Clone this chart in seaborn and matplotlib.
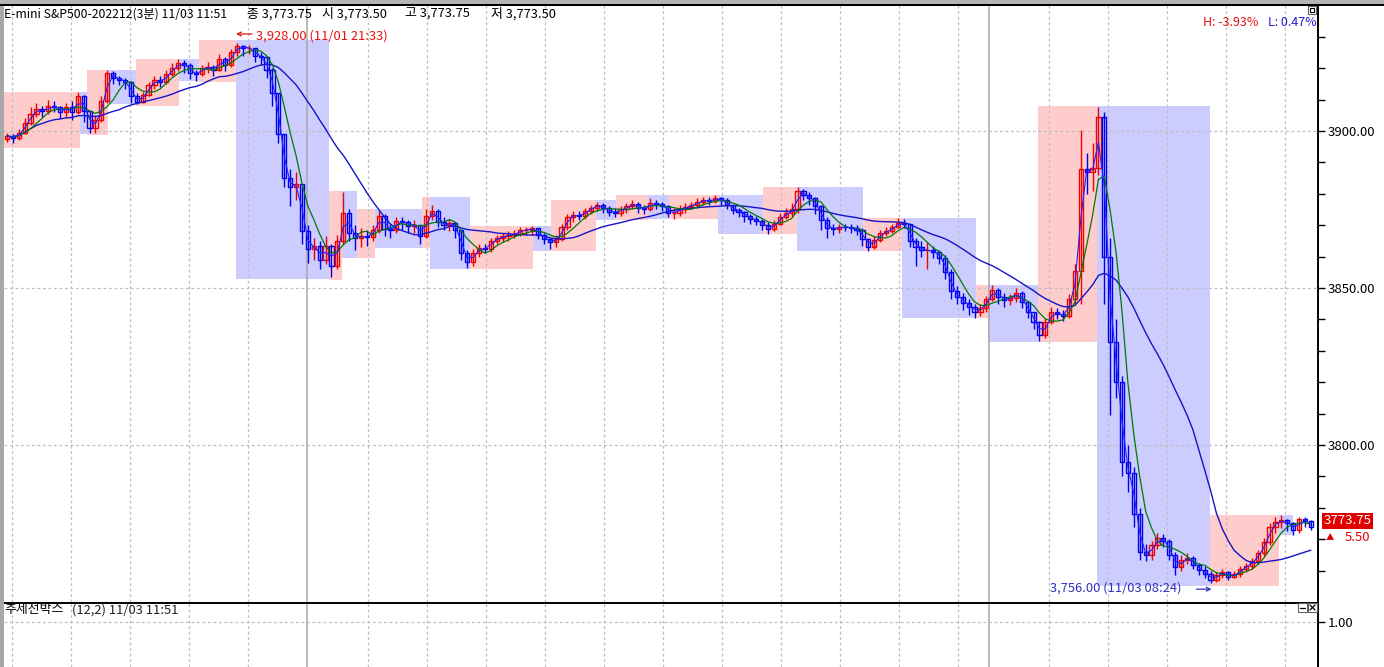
import numpy as np
import pandas as pd
import matplotlib
matplotlib.use("Agg")
import matplotlib.pyplot as plt
from matplotlib.patches import Rectangle
from matplotlib.lines import Line2D
import matplotlib.transforms as mtrans
import seaborn as sns

# ---------------- data ----------------
symbol = "E-mini S&P500-202212(3분)"
last_time = "11/03 11:51"
last_open = 3773.50
last_high = 3773.75
last_low = 3773.50
price_change = 5.50
high_time = "11/01 21:33"
low_time = "11/03 08:24"
indicator_name = "추세선박스"
indicator_params = "(12,2)"
indicator_level = [1.00]

# consecutive candles (one candle = 4 x 3-min bars)
closes = [
    3898.4, 3897.8, 3899.4, 3902.5, 3905.4, 3907.0, 3906.2, 3907.8, 3907.5, 3906.0,
    3907.5, 3906.0, 3911.0, 3906.5, 3901.0, 3903.5, 3909.5, 3918.5, 3916.9, 3916.2,
    3915.6, 3911.0, 3909.2, 3911.5, 3914.5, 3916.2, 3915.6, 3918.2, 3920.0, 3921.5,
    3921.0, 3918.5, 3918.0, 3920.1, 3920.4, 3919.4, 3923.0, 3921.0, 3925.0, 3927.0,
    3926.4, 3926.5, 3924.0, 3923.4, 3919.4, 3912.0, 3899.0, 3885.0, 3882.0, 3883.0,
    3868.0, 3862.5, 3863.5, 3859.0, 3863.5, 3857.0, 3865.0, 3874.0, 3867.5, 3866.0,
    3866.5, 3866.2, 3868.5, 3873.0, 3868.8, 3868.5, 3871.2, 3871.0, 3869.8, 3870.0,
    3866.5, 3872.8, 3874.5, 3871.0, 3870.0, 3870.7, 3868.5, 3861.0, 3858.2, 3861.1,
    3862.7, 3862.5, 3865.0, 3865.8, 3866.4, 3866.9, 3867.2, 3868.5, 3868.5, 3869.0,
    3867.0, 3865.5, 3864.5, 3865.5, 3869.4, 3872.5, 3873.3, 3873.0, 3874.5, 3875.6,
    3876.4, 3875.5, 3874.2, 3874.0, 3875.0, 3876.0, 3876.8, 3875.5, 3875.0, 3877.2,
    3876.6, 3876.2, 3874.0, 3874.0, 3875.2, 3875.8, 3876.4, 3877.4, 3878.0, 3877.6,
    3878.5, 3878.0, 3876.4, 3874.8, 3874.3, 3872.8, 3872.0, 3871.3, 3870.2, 3868.8,
    3870.5, 3872.6, 3873.8, 3875.0, 3881.0, 3879.6, 3878.5, 3876.0, 3871.5, 3869.0,
    3868.8, 3869.4, 3869.3, 3869.1, 3868.5, 3865.5, 3863.2, 3865.3, 3867.5, 3868.0,
    3869.4, 3870.7, 3870.5, 3865.0, 3863.2, 3862.0, 3862.0, 3861.5, 3859.5, 3855.0,
    3849.0, 3847.1, 3845.3, 3844.0, 3842.5, 3843.5, 3846.5, 3849.4, 3847.0, 3846.2,
    3846.8, 3848.5, 3845.5, 3842.2, 3839.0, 3835.0, 3839.0, 3842.4, 3841.8, 3841.0,
    3846.5, 3855.5, 3888.0, 3886.9, 3888.2, 3904.5, 3860.0, 3832.8, 3820.0, 3794.6,
    3791.0, 3778.0, 3766.0, 3765.0, 3768.0, 3770.4, 3769.5, 3765.0, 3761.0, 3763.4,
    3764.0, 3761.8, 3760.2, 3759.0, 3757.0, 3758.6, 3759.6, 3758.0, 3758.8, 3760.5,
    3761.6, 3763.0, 3765.5, 3769.0, 3773.9, 3775.5, 3776.0, 3775.0, 3772.9, 3776.3,
    3775.8, 3773.75,
]
highs = [
    3899.5, 3899.0, 3900.5, 3904.0, 3907.5, 3909.0, 3908.0, 3909.8, 3909.5, 3908.0,
    3909.0, 3909.5, 3912.4, 3911.5, 3906.0, 3905.0, 3911.0, 3919.4, 3919.0, 3917.5,
    3917.0, 3916.0, 3912.0, 3912.5, 3915.5, 3917.5, 3917.5, 3919.5, 3921.5, 3922.9,
    3922.5, 3921.5, 3919.5, 3921.0, 3922.0, 3921.0, 3924.5, 3923.5, 3926.0, 3928.0,
    3927.5, 3927.5, 3926.5, 3925.0, 3924.0, 3920.0, 3912.0, 3899.0, 3888.0, 3887.0,
    3883.0, 3870.0, 3866.0, 3865.0, 3866.5, 3864.0, 3867.0, 3880.6, 3875.0, 3870.0,
    3869.0, 3868.5, 3870.0, 3874.5, 3873.5, 3870.5, 3872.5, 3872.5, 3871.5, 3871.5,
    3870.0, 3875.0, 3876.5, 3875.0, 3872.5, 3872.0, 3871.0, 3868.5, 3862.0, 3862.5,
    3864.0, 3864.0, 3866.0, 3867.0, 3867.5, 3868.0, 3868.5, 3869.5, 3869.5, 3869.7,
    3869.0, 3867.5, 3866.0, 3867.0, 3870.5, 3873.5, 3874.5, 3874.5, 3875.5, 3876.5,
    3877.5, 3877.0, 3876.0, 3875.5, 3876.0, 3877.0, 3878.0, 3877.5, 3876.5, 3878.5,
    3878.0, 3877.5, 3876.5, 3875.5, 3876.5, 3877.0, 3877.5, 3878.5, 3879.0, 3879.0,
    3879.5, 3879.0, 3878.5, 3876.5, 3875.5, 3874.5, 3873.5, 3873.0, 3872.0, 3871.0,
    3871.5, 3874.0, 3875.5, 3877.0, 3882.2, 3881.5, 3880.5, 3879.0, 3876.5, 3872.5,
    3870.5, 3870.5, 3870.5, 3870.5, 3870.0, 3869.0, 3866.0, 3866.5, 3868.5, 3869.5,
    3870.5, 3872.3, 3872.0, 3870.5, 3866.0, 3865.0, 3864.5, 3863.5, 3862.0, 3860.5,
    3856.0, 3850.5, 3848.5, 3846.5, 3845.0, 3845.0, 3847.5, 3851.0, 3850.0, 3848.5,
    3848.0, 3850.0, 3849.0, 3846.0, 3842.5, 3839.5, 3840.0, 3844.0, 3843.5, 3843.0,
    3848.0, 3857.5, 3900.3, 3893.0, 3896.0, 3907.75, 3906.0, 3866.0, 3840.0, 3822.0,
    3800.0, 3793.0, 3780.0, 3768.5, 3769.5, 3772.0, 3771.5, 3770.0, 3766.0, 3765.0,
    3765.5, 3764.5, 3762.5, 3761.5, 3760.0, 3759.5, 3760.5, 3760.0, 3760.0, 3761.5,
    3762.5, 3764.0, 3766.5, 3770.5, 3775.0, 3777.0, 3777.7, 3776.5, 3775.5, 3777.0,
    3777.0, 3776.0,
]
lows = [
    3896.5, 3896.0, 3897.0, 3899.0, 3902.0, 3904.5, 3904.5, 3905.5, 3906.0, 3904.0,
    3904.5, 3903.5, 3905.5, 3903.0, 3899.3, 3899.5, 3903.0, 3909.0, 3915.0, 3914.5,
    3913.5, 3909.0, 3908.6, 3909.0, 3911.0, 3913.5, 3914.0, 3915.0, 3917.5, 3919.0,
    3918.5, 3916.5, 3916.0, 3917.5, 3918.5, 3917.5, 3919.0, 3919.0, 3920.5, 3924.0,
    3924.0, 3924.5, 3922.0, 3921.0, 3917.0, 3908.0, 3896.0, 3882.0, 3876.0, 3878.0,
    3864.0, 3858.0, 3859.0, 3856.0, 3857.5, 3853.5, 3856.0, 3864.0, 3865.0, 3862.0,
    3863.0, 3863.5, 3865.0, 3867.5, 3866.5, 3866.0, 3867.5, 3868.5, 3867.5, 3867.5,
    3864.0, 3866.0, 3871.5, 3869.5, 3868.5, 3868.0, 3866.0, 3859.0, 3856.5, 3857.0,
    3860.0, 3861.0, 3861.5, 3864.0, 3864.5, 3865.0, 3866.0, 3866.5, 3867.0, 3867.0,
    3865.5, 3864.0, 3862.5, 3863.0, 3865.0, 3868.5, 3871.0, 3871.5, 3872.0, 3873.5,
    3874.5, 3874.0, 3873.0, 3872.5, 3873.0, 3874.0, 3875.0, 3874.0, 3873.5, 3874.5,
    3875.0, 3874.5, 3872.5, 3872.0, 3873.0, 3874.0, 3875.0, 3875.5, 3876.5, 3876.5,
    3877.0, 3876.5, 3875.0, 3873.5, 3872.5, 3871.0, 3870.5, 3870.0, 3868.5, 3867.2,
    3868.0, 3870.0, 3872.0, 3872.5, 3874.0, 3878.0, 3876.5, 3873.5, 3868.5, 3866.0,
    3867.0, 3867.5, 3868.0, 3867.5, 3867.0, 3863.5, 3861.8, 3862.5, 3864.5, 3866.5,
    3867.5, 3869.0, 3869.0, 3863.0, 3857.0, 3860.0, 3856.0, 3859.5, 3857.5, 3853.0,
    3846.5, 3845.0, 3843.0, 3841.5, 3840.4, 3841.0, 3842.5, 3846.0, 3845.0, 3844.0,
    3844.5, 3845.5, 3843.5, 3840.5, 3837.0, 3833.0, 3834.0, 3838.5, 3840.0, 3839.5,
    3840.5, 3845.0, 3845.0, 3880.0, 3881.0, 3886.0, 3845.0, 3809.5, 3815.0, 3790.0,
    3785.0, 3774.0, 3763.5, 3763.0, 3763.5, 3767.0, 3767.5, 3763.5, 3758.5, 3760.0,
    3762.0, 3760.5, 3758.5, 3757.5, 3756.0, 3756.5, 3757.5, 3757.0, 3757.5, 3758.0,
    3759.5, 3760.5, 3762.0, 3764.5, 3768.0, 3772.0, 3773.5, 3772.5, 3771.3, 3772.0,
    3774.0, 3773.0,
]
first_open = 3897.5

# trend boxes (candle-edge span, top, bottom, direction)
box_start = [0, 12.9, 14.1, 17.6, 22.4, 29.7, 33.1, 39.3, 55.1, 57.3, 59.8, 62.9, 70.8,
             72.2, 79.0, 89.7, 92.7, 100.3, 103.7, 109.2, 112.7, 121.0, 128.6, 134.4,
             145.6, 152.2, 164.7, 166.8, 175.3, 185.3, 204.4, 216.1]
box_end = box_start[1:] + [218.5]
box_top = [3912.4, 3912.4, 3919.4, 3919.4, 3922.9, 3922.9, 3929.0, 3929.0, 3880.9, 3880.9,
           3875.2, 3875.2, 3879.0, 3879.0, 3869.7, 3869.7, 3878.0, 3878.0, 3879.6, 3879.6,
           3879.6, 3879.6, 3882.2, 3882.2, 3872.3, 3872.3, 3851.0, 3851.0, 3908.0, 3908.0,
           3777.7, 3777.7]
box_bottom = [3894.6, 3899.0, 3898.7, 3908.6, 3908.0, 3915.9, 3915.6, 3852.9, 3852.5, 3859.6,
              3859.6, 3862.7, 3862.7, 3856.0, 3856.0, 3861.8, 3861.8, 3871.7, 3871.5, 3872.0,
              3872.0, 3867.2, 3867.2, 3861.8, 3861.8, 3840.4, 3840.4, 3832.8, 3832.8, 3755.0,
              3755.0, 3771.3]
box_dir = ["up", "dn"] * 16

ma_windows = {"short": 2, "mid": 5, "long": 20}

# ---------------- derived series ----------------
n = len(closes)
idx = np.arange(n)
close_arr = np.array(closes)
open_arr = np.concatenate([[first_open], close_arr[:-1]])
high_arr = np.maximum(np.array(highs), np.maximum(open_arr, close_arr))
low_arr = np.minimum(np.array(lows), np.minimum(open_arr, close_arr))
df = pd.DataFrame({"i": idx, "close": close_arr})
for name, w in ma_windows.items():
    df[name] = df["close"].rolling(w, min_periods=1).mean()

# ---------------- figure ----------------
sns.set_theme(style="white")
plt.rcParams["font.family"] = ["Noto Sans CJK KR", "DejaVu Sans"]
plt.rcParams["axes.unicode_minus"] = False

W, H = 1384, 667
fig = plt.figure(figsize=(W / 100, H / 100), dpi=100, facecolor="white")

def fx(px):
    return px / W

def fy(py):
    return 1 - py / H

ax_l, ax_r = 4, 1318
ax = fig.add_axes([fx(ax_l), fy(602), fx(ax_r - ax_l), (602 - 5) / H])
ax2 = fig.add_axes([fx(ax_l), 0, fx(ax_r - ax_l), (667 - 603) / H])

xmin = -0.5
xmax = xmin + (ax_r - ax_l) / 5.9
for a in (ax, ax2):
    a.set_xlim(xmin, xmax)
    a.set_facecolor("white")
    for s in ("left", "bottom"):
        a.spines[s].set_visible(False)
    a.spines["right"].set_color("black")
    a.spines["right"].set_linewidth(1.2)
    a.spines["top"].set_color("black")
    a.spines["top"].set_linewidth(1.4)
    a.set_xticks([])
ax.set_ylim(3750.0, 3940.1)
ax2.set_ylim(0, 1.0 / 0.70)

# trend boxes
for s, e, t, b, d in zip(box_start, box_end, box_top, box_bottom, box_dir):
    ax.add_patch(Rectangle((s - 0.5, b), e - s, t - b,
                           facecolor="#FFCCCC" if d == "up" else "#CCCCFF",
                           edgecolor="none", zorder=0))

# grid
grid_x = list(0.86 + 10 * np.arange(5)) + list(61.2 + 10 * np.arange(11)) + list(176.6 + 10 * np.arange(5))
sep_x = [50.86, 166.4]
for a in (ax, ax2):
    for gx in grid_x:
        a.axvline(gx, color="#BEBEBE", lw=0.9, ls=(0, (2.2, 2.2)), zorder=0.5)
    for gx in sep_x:
        a.axvline(gx, color="#A8A8A8", lw=1.1, zorder=0.5)
for gy in [3800, 3850, 3900]:
    ax.axhline(gy, color="#BEBEBE", lw=0.9, ls=(0, (2.2, 2.2)), zorder=0.5)
for gy in indicator_level:
    ax2.axhline(gy, color="#BEBEBE", lw=0.9, ls=(0, (2.2, 2.2)), zorder=0.5)

# candles
up = close_arr >= open_arr
cols = np.where(up, "#F00000", "#0000F0")
ax.vlines(idx, low_arr, high_arr, colors=cols, lw=1.0, zorder=3)
ax.bar(idx, np.abs(close_arr - open_arr), bottom=np.minimum(open_arr, close_arr),
       width=0.7, facecolor="none", edgecolor=cols, linewidth=1.0, zorder=3)

# moving averages
sns.lineplot(data=df, x="i", y="long", ax=ax, color="#1414C8", lw=1.0, zorder=4, legend=False)
sns.lineplot(data=df, x="i", y="mid", ax=ax, color="#00780A", lw=0.9, zorder=4, legend=False)
sns.lineplot(data=df, x="i", y="short", ax=ax, color="#2020FF", lw=0.8, zorder=4, legend=False)
ax.set_xlabel("")
ax.set_ylabel("")

# right axis
ax.yaxis.tick_right()
ax.set_yticks([3800, 3850, 3900])
ax.set_yticklabels([f"{v:.2f}" for v in [3800, 3850, 3900]])
ax.set_yticks(np.arange(3760, 3940, 10), minor=True)
ax.tick_params(axis="y", which="both", direction="out", length=5, width=1.0,
               color="black", labelsize=9.5, labelcolor="black", pad=2, right=True, left=False)
ax.tick_params(axis="y", which="minor", length=5)
ax2.yaxis.tick_right()
ax2.set_yticks(indicator_level)
ax2.set_yticklabels([f"{v:.2f}" for v in indicator_level])
ax2.tick_params(axis="y", direction="out", length=5, width=1.0, color="black",
                labelsize=9.5, labelcolor="black", pad=2, right=True, left=False)

# high / low annotations
ih = int(np.argmax(high_arr))
il = int(np.argmin(low_arr))
hi = high_arr[ih]
lo = low_arr[il]
last = close_arr[-1]

def off(dx, dy):
    return mtrans.offset_copy(ax.transData, fig=fig, x=dx, y=dy, units="dots")

ax.annotate("", xy=(ih, hi), xycoords=off(-1, 9), xytext=(ih, hi), textcoords=off(15, 9),
            arrowprops=dict(arrowstyle="->", color="#E81010", lw=0.9, mutation_scale=7,
                            shrinkA=0, shrinkB=0), zorder=6)
ax.annotate(f"{hi:,.2f} ({high_time})", xy=(ih, hi), xytext=(19, 7),
            textcoords="offset pixels", ha="left", va="center", color="#E81010",
            fontsize=9.3, zorder=6)
ax.annotate(f"{lo:,.2f} ({low_time})", xy=(il, lo), xytext=(-29, -5),
            textcoords="offset pixels", ha="right", va="center", color="#3030C0",
            fontsize=9.3, zorder=6)
ax.annotate("", xy=(il, lo), xycoords=off(1, -6), xytext=(il, lo), textcoords=off(-14, -6),
            arrowprops=dict(arrowstyle="->", color="#3030C0", lw=0.9, mutation_scale=7,
                            shrinkA=0, shrinkB=0), zorder=6)

# H / L percentage
h_pct = (last - hi) / hi * 100
l_pct = (last - lo) / lo * 100
ax.text((1203 - ax_l) / (ax_r - ax_l), 1 - (23 - 5) / 597, f"H: {h_pct:.2f}%",
        transform=ax.transAxes, color="#E81010", fontsize=9, ha="left", va="center", zorder=6)
ax.text((1268 - ax_l) / (ax_r - ax_l), 1 - (23 - 5) / 597, f"L: {l_pct:.2f}%",
        transform=ax.transAxes, color="#2020D0", fontsize=9, ha="left", va="center", zorder=6)

# last price marker on axis
bt = mtrans.blended_transform_factory(ax.transAxes, ax.transData)
ax.text((1324 - ax_l) / (ax_r - ax_l), last, f"{last:.2f}", transform=bt, color="white",
        fontsize=9.5, ha="left", va="bottom", clip_on=False, zorder=7,
        bbox=dict(boxstyle="square,pad=0.12", facecolor="#E00000", edgecolor="none"))
ax.annotate("\u25B2", xy=(1.0, last), xycoords=bt, xytext=(12, -10), textcoords="offset pixels",
            color="#E00000", fontsize=6, ha="center", va="center", annotation_clip=False)
ax.annotate(f"{price_change:.2f}", xy=(1.0, last), xycoords=bt, xytext=(52, -10),
            textcoords="offset pixels", color="#E00000", fontsize=9.5, ha="right", va="center",
            annotation_clip=False)

# titles
ty = fy(14)
fs_t = 9.3
fig.text(fx(4), ty, f"{symbol} {last_time}", fontsize=8.8, color="black", va="center")
fig.text(fx(247), ty, f"종 {last:,.2f}", fontsize=fs_t, color="black", va="center")
fig.text(fx(322), ty, f"시 {last_open:,.2f}", fontsize=fs_t, color="black", va="center")
fig.text(fx(405), ty, f"고 {last_high:,.2f}", fontsize=fs_t, color="black", va="center")
fig.text(fx(491), ty, f"저 {last_low:,.2f}", fontsize=fs_t, color="black", va="center")
fig.text(fx(4), fy(610), indicator_name, fontsize=fs_t, color="black", va="center")
fig.text(fx(72), fy(610), f"{indicator_params} {last_time}", fontsize=fs_t, color="#202020", va="center")

# window chrome
fig.patches.append(Rectangle((0, 0), fx(4), 1, transform=fig.transFigure, facecolor="#A8A8A8",
                             edgecolor="none", zorder=10))
fig.patches.append(Rectangle((0, fy(4)), 1, 4 / H, transform=fig.transFigure, facecolor="#B4B4B4",
                             edgecolor="none", zorder=10))
fig.lines.append(Line2D([0, 1], [fy(4.5), fy(4.5)], transform=fig.transFigure, color="black",
                        lw=1.4, zorder=11))
fig.lines.append(Line2D([fx(ax_r), fx(ax_r)], [0, fy(5)], transform=fig.transFigure,
                        color="black", lw=1.2, zorder=11))
for (x0, y0, s) in [(1308, 6, 8), (1298, 603, 9), (1308, 603, 9)]:
    fig.patches.append(Rectangle((fx(x0), fy(y0 + s)), s / W, s / H, transform=fig.transFigure,
                                 facecolor="white", edgecolor="#606060", lw=0.8, zorder=12))
fig.patches.append(Rectangle((fx(1310), fy(12)), 4 / W, 4 / H, transform=fig.transFigure,
                             facecolor="none", edgecolor="black", lw=0.8, zorder=13))
fig.lines.append(Line2D([fx(1300), fx(1305)], [fy(607.5), fy(607.5)], transform=fig.transFigure,
                        color="black", lw=0.9, zorder=13))
fig.lines.append(Line2D([fx(1310), fx(1315)], [fy(605), fy(610)], transform=fig.transFigure,
                        color="black", lw=0.9, zorder=13))
fig.lines.append(Line2D([fx(1310), fx(1315)], [fy(610), fy(605)], transform=fig.transFigure,
                        color="black", lw=0.9, zorder=13))

fig.savefig("out.png", dpi=100, facecolor="white")
